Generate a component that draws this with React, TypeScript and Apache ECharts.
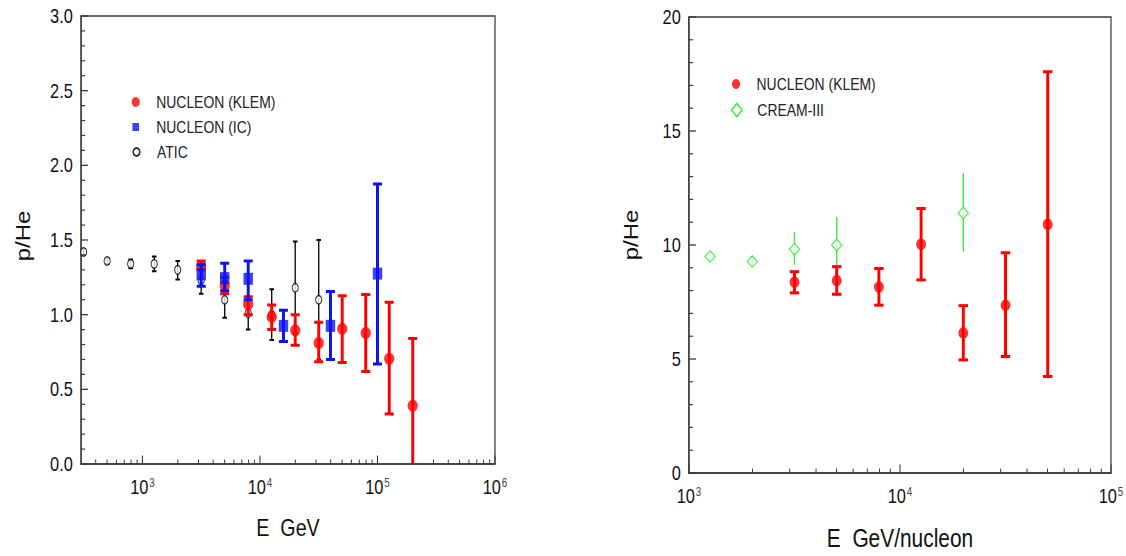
import React, { useEffect, useRef } from 'react';
import * as echarts from 'echarts';

// ---------- data (left panel: p/He vs E, GeV) ----------
const klemEnergyL = [3162, 5012, 7943, 12589, 19953, 31623, 50119, 79433, 125893, 199526];
const klemRatioL = [1.325, 1.195, 1.07, 0.985, 0.895, 0.81, 0.905, 0.877, 0.705, 0.39];
const klemLowL = [1.30, 1.14, 1.00, 0.90, 0.795, 0.685, 0.68, 0.62, 0.335, -0.1];
const klemHighL = [1.36, 1.25, 1.12, 1.065, 1.0, 0.95, 1.127, 1.135, 1.083, 0.84];

const icEnergy = [3162, 5012, 7943, 15849, 39811, 100000];
const icRatio = [1.27, 1.245, 1.24, 0.925, 0.925, 1.275];
const icLow = [1.19, 1.16, 1.10, 0.82, 0.70, 0.67];
const icHigh = [1.335, 1.345, 1.36, 1.03, 1.155, 1.875];

const aticEnergy = [316, 501, 794, 1259, 1995, 3162, 5012, 7943, 12589, 19953, 31623];
const aticRatio = [1.42, 1.36, 1.34, 1.34, 1.30, 1.23, 1.10, 1.01, 1.00, 1.18, 1.10];
const aticLow = [1.40, 1.34, 1.31, 1.29, 1.235, 1.14, 0.98, 0.90, 0.83, 0.87, 0.70];
const aticHigh = [1.44, 1.38, 1.37, 1.39, 1.36, 1.33, 1.22, 1.12, 1.17, 1.49, 1.50];

// ---------- data (right panel: p/He vs E, GeV/nucleon) ----------
const klemEnergyR = [3162, 5012, 7943, 12589, 19953, 31623, 50119];
const klemRatioR = [8.37, 8.44, 8.16, 10.03, 6.14, 7.36, 10.91];
const klemLowR = [7.90, 7.84, 7.36, 8.47, 4.96, 5.11, 4.23];
const klemHighR = [8.83, 9.05, 8.97, 11.6, 7.34, 9.66, 17.6];

const creamEnergy = [1259, 1995, 3162, 5012, 19953];
const creamRatio = [9.5, 9.28, 9.81, 10.0, 11.4];
const creamLow = [9.25, 9.05, 9.13, 8.8, 9.71];
const creamHigh = [9.72, 9.52, 10.56, 11.23, 13.16];

// ---------- axes ----------
const xRangeL = [300, 1000000];
const xRangeR = [1000, 100000];
const yRangeL = [0, 3];
const yRangeR = [0, 20];
const yStepL = 0.5;
const yStepR = 5;
const yMinorStepL = 0.1;
const yMinorStepR = 1;
const decadesL = [100, 1000, 10000, 100000, 1000000];
const decadesR = [1000, 10000, 100000];
const minorMultipliers = [2, 3, 4, 5, 6, 7, 8, 9];
const xTitleL = 'E  GeV';
const xTitleR = 'E  GeV/nucleon';
const yTitle = 'p/He';
const nameKlem = 'NUCLEON (KLEM)';
const nameIC = 'NUCLEON (IC)';
const nameAtic = 'ATIC';
const nameCream = 'CREAM-III';

// ---------- layout / style ----------
const SQ = 0.82; // horizontal compression of the reference image
const W = 1126;
const H = 556;
const IW = W / SQ;
const FONT = '"Liberation Sans", Arial, Helvetica, sans-serif';
const RED = '#ff0000';
const BLUE = '#0a14f0';
const GREEN = '#2ee62e';
const AXIS = '#3a3a3a';
const TXT = '#111111';

const pts = (xs: number[], ys: number[]) => xs.map((x, i) => [x, ys[i]]);
const errs = (xs: number[], ys: number[], lo: number[], hi: number[]) =>
  xs.map((x, i) => [x, ys[i], lo[i], hi[i]]);

function inRange(v: number, r: number[]) {
  return v >= r[0] * (1 - 1e-9) && v <= r[1] * (1 + 1e-9);
}
function logMajor(decades: number[], r: number[]) {
  return decades.filter((d) => inRange(d, r));
}
function logMinor(decades: number[], r: number[]) {
  const out: number[] = [];
  decades.forEach((d) => minorMultipliers.forEach((m) => {
    const v = d * m;
    if (v > r[0] && v < r[1]) out.push(v);
  }));
  return out;
}
function linTicks(r: number[], step: number, major: number) {
  const out: number[] = [];
  const n = Math.round((r[1] - r[0]) / step);
  for (let i = 0; i <= n; i++) {
    const v = +(r[0] + i * step).toFixed(6);
    const isMajor = Math.abs(v / major - Math.round(v / major)) < 1e-6;
    if (major === step || !isMajor) out.push(v);
  }
  return out;
}

function errRender(color: string, lineW: number, capW: number, capLW: number) {
  return (params: any, api: any) => {
    const x = api.value(0);
    const top = api.coord([x, api.value(3)]);
    const bot = api.coord([x, api.value(2)]);
    const children: any[] = [
      {
        type: 'line',
        shape: { x1: top[0], y1: top[1], x2: bot[0], y2: bot[1] },
        style: { stroke: color, lineWidth: lineW },
      },
    ];
    if (capW > 0) {
      children.push({
        type: 'line',
        shape: { x1: top[0] - capW / 2, y1: top[1], x2: top[0] + capW / 2, y2: top[1] },
        style: { stroke: color, lineWidth: capLW },
      });
      children.push({
        type: 'line',
        shape: { x1: bot[0] - capW / 2, y1: bot[1], x2: bot[0] + capW / 2, y2: bot[1] },
        style: { stroke: color, lineWidth: capLW },
      });
    }
    return { type: 'group', children };
  };
}

// inside tick marks drawn through the axes' own scales
function tickSeries(axisIdx: number, values: number[], dir: 'x' | 'y', other: number, len: number, lw: number) {
  return {
    type: 'custom',
    name: `ticks-${dir}-${axisIdx}-${len}`,
    xAxisIndex: axisIdx,
    yAxisIndex: axisIdx,
    silent: true,
    clip: false,
    z: 10,
    data: values.map((v) => (dir === 'x' ? [v, other] : [other, v])),
    renderItem: (params: any, api: any) => {
      const p = api.coord([api.value(0), api.value(1)]);
      const shape = dir === 'x'
        ? { x1: p[0], y1: p[1], x2: p[0], y2: p[1] - len }
        : { x1: p[0], y1: p[1], x2: p[0] + len, y2: p[1] };
      return { type: 'line', shape, style: { stroke: AXIS, lineWidth: lw } };
    },
  };
}

const logLabel = (v: number) => {
  const e = Math.round(Math.log10(v));
  if (Math.abs(v / Math.pow(10, e) - 1) > 1e-6) return '';
  return `{b|10}{s|${e}}`;
};

function xAxisCfg(gridIndex: number, range: number[], name: string, nameSize: number) {
  return {
    type: 'log',
    logBase: 10,
    gridIndex,
    min: range[0],
    max: range[1],
    name,
    nameLocation: 'middle',
    nameGap: 52,
    nameTextStyle: { fontSize: nameSize, color: TXT, fontFamily: FONT },
    axisLine: { show: true, lineStyle: { color: AXIS, width: 1.5 } },
    axisTick: { show: false },
    minorTick: { show: false },
    splitLine: { show: false },
    minorSplitLine: { show: false },
    axisLabel: {
      formatter: logLabel,
      margin: 13,
      fontSize: 20,
      showMinLabel: true,
      showMaxLabel: true,
      rich: {
        b: { fontSize: 20, color: TXT, fontFamily: FONT },
        s: { fontSize: 12, color: '#444', fontFamily: FONT, verticalAlign: 'top', padding: [0, 0, 0, 1] },
      },
    },
  };
}

function yAxisCfg(gridIndex: number, range: number[], step: number, dec: number, pad: number) {
  return {
    type: 'value',
    gridIndex,
    min: range[0],
    max: range[1],
    interval: step,
    name: yTitle,
    nameLocation: 'middle',
    nameRotate: 90,
    nameGap: 59,
    nameTextStyle: { fontSize: 24, color: TXT, fontFamily: FONT, padding: [0, 0, 0, pad] },
    axisLine: { show: true, lineStyle: { color: AXIS, width: 1.5 } },
    axisTick: { show: false },
    minorTick: { show: false },
    splitLine: { show: false },
    axisLabel: {
      formatter: (v: number) => v.toFixed(dec),
      fontSize: 20,
      color: TXT,
      fontFamily: FONT,
      margin: 10,
    },
  };
}

function legendCfg(name: string, left: number, top: number, ih: number, icon?: string) {
  const item: any = { name };
  if (icon) item.icon = icon;
  return {
    data: [item],
    left,
    top,
    orient: 'vertical',
    padding: 0,
    itemWidth: 40,
    itemHeight: ih,
    symbolKeepAspect: true,
    selectedMode: false,
    textStyle: { fontSize: 17, color: '#222', fontFamily: FONT },
  };
}

const SQUARE_ICON = 'path://M0,0L10,0L10,10L0,10Z';
const DIAMOND_ICON = 'path://M5,0L10,5L5,10L0,5Z';

export default function App() {
  const ref = useRef<HTMLDivElement>(null);

  useEffect(() => {
    if (!ref.current) return;
    const chart = echarts.init(ref.current, undefined, { renderer: 'svg' });
    const option: any = {
      animation: false,
      backgroundColor: '#ffffff',
      textStyle: { fontFamily: FONT },
      grid: [
        { left: 81 / SQ, top: 16, width: (495 - 81) / SQ, height: 448, show: true, backgroundColor: 'rgba(0,0,0,0)', borderColor: AXIS, borderWidth: 1.5 },
        { left: 689 / SQ, top: 17, width: (1111 - 689) / SQ, height: 456, show: true, backgroundColor: 'rgba(0,0,0,0)', borderColor: AXIS, borderWidth: 1.5 },
      ],
      xAxis: [xAxisCfg(0, xRangeL, xTitleL, 24), xAxisCfg(1, xRangeR, xTitleR, 25.5)],
      yAxis: [yAxisCfg(0, yRangeL, yStepL, 1, 8), yAxisCfg(1, yRangeR, yStepR, 0, 20)],
      legend: [
        legendCfg(nameKlem, 165.5 - 5, 93.5, 10),
        legendCfg(nameIC, 165.5 - 4, 118.5, 8, SQUARE_ICON),
        legendCfg(nameAtic, 165.5 - 4, 143.5, 8),
        legendCfg(nameKlem, 897.6 - 5, 75.5, 10),
        legendCfg(nameCream, 897.6 - 6.5, 101.5, 13, DIAMOND_ICON),
      ],
      series: [
        // axis tick marks (inside)
        tickSeries(0, logMajor(decadesL, xRangeL), 'x', yRangeL[0], 8.5, 1.3),
        tickSeries(0, logMinor(decadesL, xRangeL), 'x', yRangeL[0], 4.5, 1.2),
        tickSeries(0, linTicks(yRangeL, yStepL, yStepL), 'y', xRangeL[0], 8.5, 1.3),
        tickSeries(0, linTicks(yRangeL, yMinorStepL, yStepL), 'y', xRangeL[0], 5, 1.2),
        tickSeries(1, logMajor(decadesR, xRangeR), 'x', yRangeR[0], 8.5, 1.3),
        tickSeries(1, logMinor(decadesR, xRangeR), 'x', yRangeR[0], 4.5, 1.2),
        tickSeries(1, linTicks(yRangeR, yStepR, yStepR), 'y', xRangeR[0], 8.5, 1.3),
        tickSeries(1, linTicks(yRangeR, yMinorStepR, yStepR), 'y', xRangeR[0], 5, 1.2),
        // left panel
        {
          type: 'custom', name: 'atic-err', xAxisIndex: 0, yAxisIndex: 0, clip: true,
          renderItem: errRender('#000000', 1.6, 5.5, 2),
          encode: { x: 0, y: [2, 3] },
          data: errs(aticEnergy, aticRatio, aticLow, aticHigh), z: 2,
        },
        {
          type: 'scatter', name: nameAtic, xAxisIndex: 0, yAxisIndex: 0,
          symbol: 'circle', symbolSize: [7.5, 8.5],
          itemStyle: { color: '#ffffff', borderColor: '#000000', borderWidth: 1.3 },
          data: pts(aticEnergy, aticRatio), z: 3,
        },
        {
          type: 'custom', name: 'klem-err-l', xAxisIndex: 0, yAxisIndex: 0, clip: true,
          renderItem: errRender(RED, 3.6, 11, 3),
          encode: { x: 0, y: [2, 3] },
          data: errs(klemEnergyL, klemRatioL, klemLowL, klemHighL), z: 4,
        },
        {
          type: 'scatter', name: nameKlem, xAxisIndex: 0, yAxisIndex: 0,
          symbol: 'circle', symbolSize: [12.5, 12],
          itemStyle: { color: RED },
          data: pts(klemEnergyL, klemRatioL), z: 5,
        },
        {
          type: 'custom', name: 'ic-err', xAxisIndex: 0, yAxisIndex: 0, clip: true,
          renderItem: errRender(BLUE, 3.6, 11, 3),
          encode: { x: 0, y: [2, 3] },
          data: errs(icEnergy, icRatio, icLow, icHigh), z: 6,
        },
        {
          type: 'scatter', name: nameIC, xAxisIndex: 0, yAxisIndex: 0,
          symbol: 'rect', symbolSize: [11.5, 12],
          itemStyle: { color: BLUE },
          data: pts(icEnergy, icRatio), z: 7,
        },
        // right panel
        {
          type: 'custom', name: 'cream-err', xAxisIndex: 1, yAxisIndex: 1, clip: true,
          renderItem: errRender(GREEN, 1.6, 0, 0),
          encode: { x: 0, y: [2, 3] },
          data: errs(creamEnergy, creamRatio, creamLow, creamHigh), z: 2,
        },
        {
          type: 'scatter', name: nameCream, xAxisIndex: 1, yAxisIndex: 1,
          symbol: 'diamond', symbolSize: [12.5, 11.5],
          itemStyle: { color: '#ffffff', borderColor: GREEN, borderWidth: 1.4 },
          data: pts(creamEnergy, creamRatio), z: 3,
        },
        {
          type: 'custom', name: 'klem-err-r', xAxisIndex: 1, yAxisIndex: 1, clip: true,
          renderItem: errRender(RED, 3.6, 11.5, 3),
          encode: { x: 0, y: [2, 3] },
          data: errs(klemEnergyR, klemRatioR, klemLowR, klemHighR), z: 4,
        },
        {
          type: 'scatter', name: nameKlem, xAxisIndex: 1, yAxisIndex: 1,
          symbol: 'circle', symbolSize: [12, 11.5],
          itemStyle: { color: RED },
          data: pts(klemEnergyR, klemRatioR), z: 5,
        },
      ],
    };
    chart.setOption(option);
    return () => chart.dispose();
  }, []);

  return (
    <div style={{ position: 'absolute', left: 0, top: 0, width: W, height: H, overflow: 'hidden', background: '#fff' }}>
      <div
        ref={ref}
        style={{ width: IW, height: H, transform: `scaleX(${SQ})`, transformOrigin: '0 0' }}
      />
    </div>
  );
}
